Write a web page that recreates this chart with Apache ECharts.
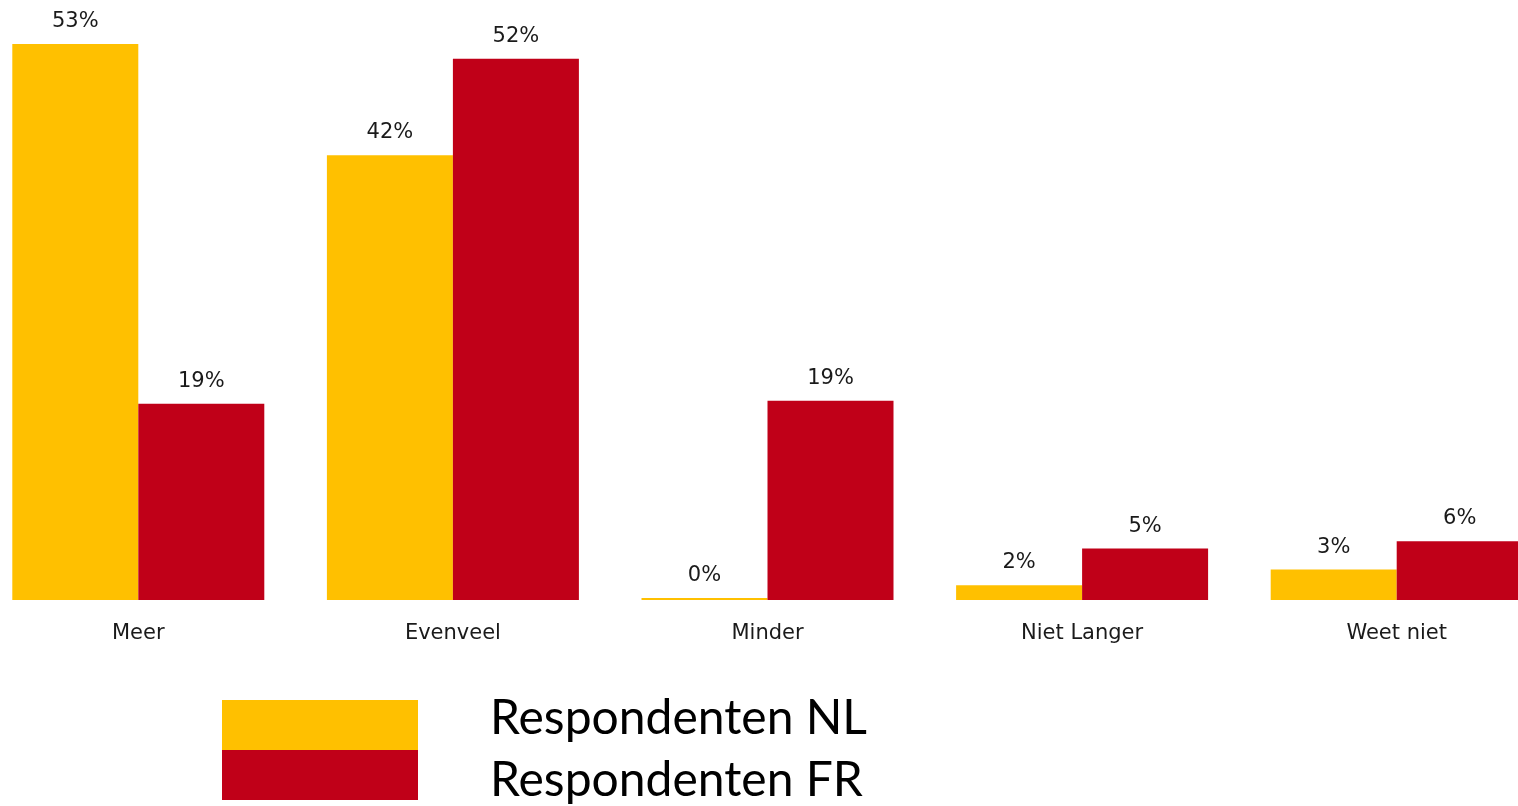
<!DOCTYPE html>
<html>
<head>
<meta charset="utf-8">
<script src="https://cdn.jsdelivr.net/npm/echarts@6/dist/echarts.min.js"></script>
<style>
  html, body { margin: 0; padding: 0; background: #fff; }
  #wrap { position: relative; width: 1518px; height: 806px; overflow: hidden; }
  /* plot area is wider than the page: first and last bars are cut off */
  #chart { position: absolute; left: -19px; top: 0; width: 1573px; height: 806px; }
</style>
</head>
<body>
<div id="wrap"><div id="chart"></div></div>
<script>
  // categorieen en waarden
  var categories = ['Meer', 'Evenveel', 'Minder', 'Niet Langer', 'Weet niet']
  var valuesNL = [53.0, 42.4, 0.2, 1.4, 2.9]
  var valuesFR = [18.7, 51.6, 19.0, 4.9, 5.6]
  // tekst boven de staven
  var labelsNL = ['53%', '42%', '0%', '2%', '3%']
  var labelsFR = ['19%', '52%', '19%', '5%', '6%']
  var seriesNames = ['Respondenten NL', 'Respondenten FR']

  var colors = ['#FFC000', '#C00018']

  var chart = echarts.init(document.getElementById('chart'))

  function barLabel (labels) {
    return {
      show: true,
      position: 'top',
      distance: 12,
      color: '#1a1a1a',
      fontFamily: 'DejaVu Sans',
      fontSize: 21,
      formatter: function (p) {
        return labels[p.dataIndex]
      }
    }
  }

  // een legenda per reeks; een lege regel schuift de tekst t.o.v. het blokje
  function legendItem (name, top, gapAbove) {
    return {
      orient: 'vertical',
      left: 241,
      top: top,
      padding: 0,
      itemWidth: 196,
      itemHeight: 50,
      itemGap: 0,
      icon: 'rect',
      data: [name],
      formatter: function (n) {
        return gapAbove ? '{gap| }\n{txt|' + n + '}' : '{txt|' + n + '}\n{gap| }'
      },
      textStyle: {
        rich: {
          txt: {
            fontFamily: 'Lato',
            fontSize: 48,
            color: '#000',
            lineHeight: 50,
            padding: [0, 0, 0, 67]
          },
          gap: {
            fontSize: 10,
            lineHeight: 12
          }
        }
      }
    }
  }

  chart.setOption({
    animation: false,
    color: colors,
    grid: {
      left: 0,
      right: 0,
      top: 23,
      bottom: 206
    },
    legend: [
      legendItem(seriesNames[0], 695, false),
      legendItem(seriesNames[1], 745, true)
    ],
    xAxis: {
      type: 'category',
      data: categories,
      axisLine: { show: false },
      axisTick: { show: false },
      axisLabel: {
        margin: 23,
        color: '#1a1a1a',
        fontFamily: 'DejaVu Sans',
        fontSize: 21
      }
    },
    yAxis: {
      type: 'value',
      min: 0,
      max: 55,
      show: false,
      splitLine: { show: false }
    },
    series: [
      {
        name: seriesNames[0],
        type: 'bar',
        data: valuesNL,
        barWidth: 126,
        barGap: '0%',
        label: barLabel(labelsNL)
      },
      {
        name: seriesNames[1],
        type: 'bar',
        data: valuesFR,
        barWidth: 126,
        barGap: '0%',
        label: barLabel(labelsFR)
      }
    ]
  })
</script>
</body>
</html>
